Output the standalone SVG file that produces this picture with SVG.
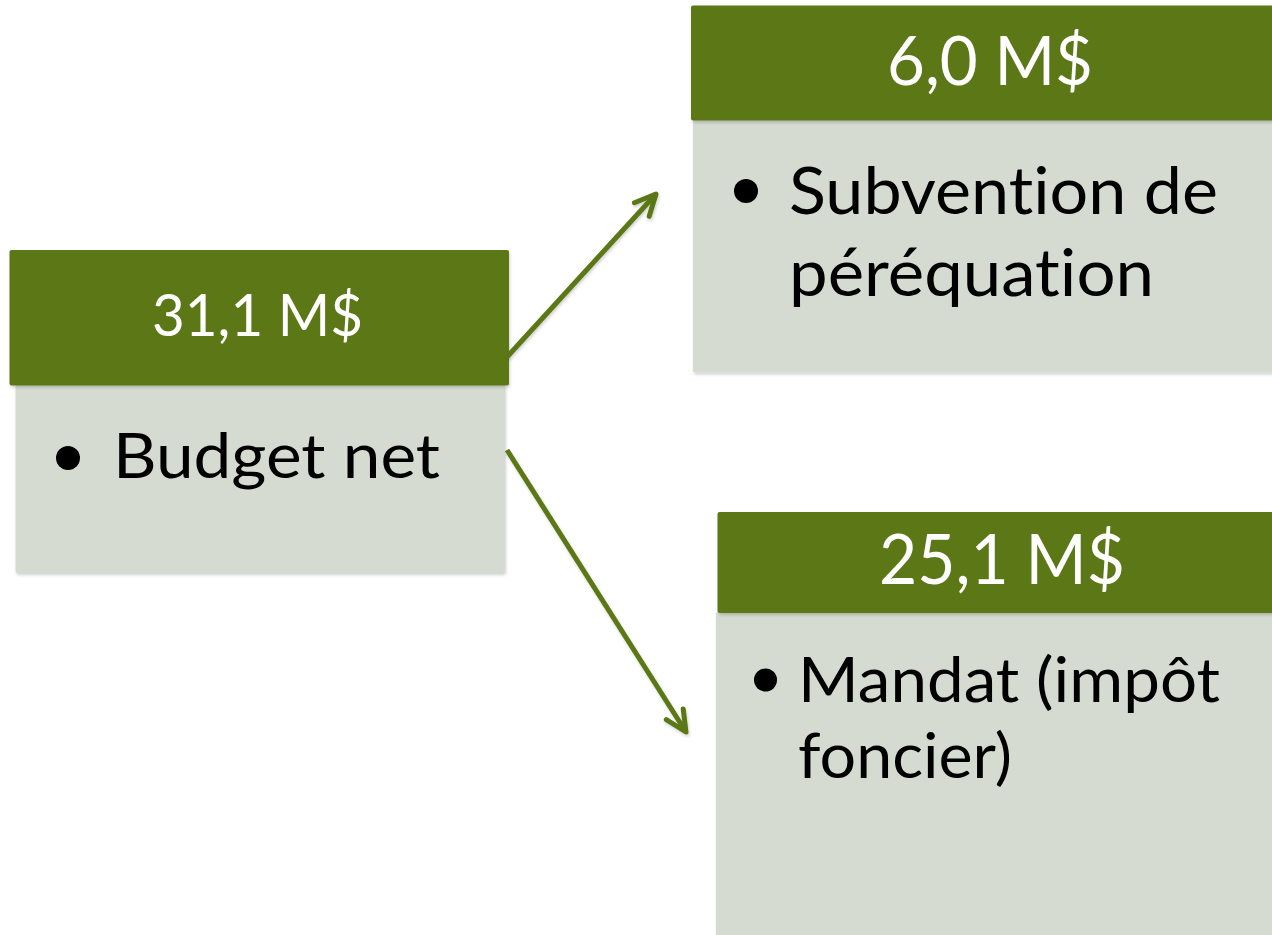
<svg xmlns="http://www.w3.org/2000/svg" width="1272" height="935" viewBox="0 0 1272 935">
  <style>
    .hdr { fill: #5B7813; }
    .body { fill: #D5DBD1; }
    .ht { font-family: Lato, "Liberation Sans", sans-serif; fill: #FFFFFF; font-variant-ligatures: none; }
    .bt { font-family: Lato, "Liberation Sans", sans-serif; fill: #000000; font-variant-ligatures: none; }
    .conn { stroke: #5B7813; stroke-width: 5; fill: none; }
  </style>
  <defs>
    <filter id="sh" x="-10%" y="-10%" width="120%" height="130%">
      <feDropShadow dx="1" dy="2" stdDeviation="1.5" flood-color="#000" flood-opacity="0.18"/>
    </filter>
    <marker id="arr" markerUnits="userSpaceOnUse" markerWidth="40" markerHeight="40" viewBox="-30 -20 40 40" refX="0" refY="0" orient="auto">
      <path d="M-21,-10 L0,0 L-21,10" fill="none" stroke="#5B7813" stroke-width="5" stroke-linecap="round" stroke-linejoin="round"/>
    </marker>
  </defs>
  <rect width="1272" height="935" fill="#FFFFFF"/>

  <g id="node-budget">
    <rect class="body" x="15.5" y="384" width="489.5" height="189" rx="2" filter="url(#sh)"/>
    <rect class="hdr" x="9.5" y="250" width="499.5" height="135.5" rx="2" filter="url(#sh)"/>
    <text class="ht" x="152" y="336" font-size="57.5" textLength="211" lengthAdjust="spacingAndGlyphs">31,1 M$</text>
    <circle cx="68" cy="458" r="12" fill="#000"/>
    <text class="bt" x="113" y="478" font-size="62" textLength="327" lengthAdjust="spacingAndGlyphs">Budget net</text>
  </g>

  <g id="node-subvention">
    <rect class="body" x="693" y="120" width="585" height="252.5" rx="2" filter="url(#sh)"/>
    <rect class="hdr" x="691" y="5.5" width="587" height="115" rx="2" filter="url(#sh)"/>
    <text class="ht" x="887" y="85" font-size="67" textLength="206" lengthAdjust="spacingAndGlyphs">6,0 M$</text>
    <circle cx="746" cy="191" r="12" fill="#000"/>
    <text class="bt" x="789" y="214" font-size="65" textLength="429" lengthAdjust="spacingAndGlyphs">Subvention de</text>
    <text class="bt" x="789" y="296" font-size="65" textLength="365" lengthAdjust="spacingAndGlyphs">péréquation</text>
  </g>

  <g id="node-mandat">
    <rect class="body" x="716" y="612" width="562" height="330" rx="2" filter="url(#sh)"/>
    <rect class="hdr" x="717.5" y="512" width="560" height="101" rx="2" filter="url(#sh)"/>
    <text class="ht" x="879" y="584" font-size="69" textLength="246" lengthAdjust="spacingAndGlyphs">25,1 M$</text>
    <circle cx="765.5" cy="680" r="11.5" fill="#000"/>
    <text class="bt" x="798" y="702" font-size="62" textLength="422" lengthAdjust="spacingAndGlyphs">Mandat (impôt</text>
    <text class="bt" x="798" y="778" font-size="62" textLength="214" lengthAdjust="spacingAndGlyphs">foncier)</text>
  </g>

  <g id="connectors" filter="url(#sh)">
    <line class="conn" x1="507" y1="357" x2="656" y2="194" marker-end="url(#arr)"/>
    <line class="conn" x1="507" y1="450" x2="686" y2="732" marker-end="url(#arr)"/>
  </g>
</svg>
